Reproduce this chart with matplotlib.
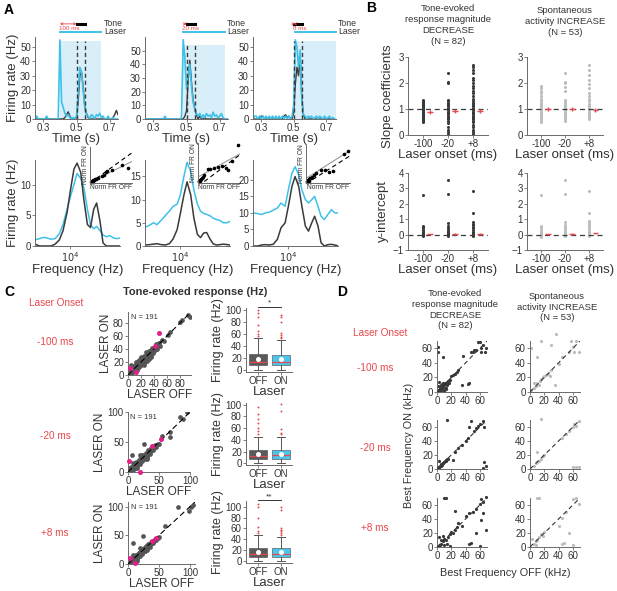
import numpy as np
import matplotlib
matplotlib.use('Agg')
import matplotlib.pyplot as plt

plt.rcParams['font.family'] = ['Liberation Sans', 'DejaVu Sans']
plt.rcParams['axes.linewidth'] = 0.7
plt.rcParams['axes.edgecolor'] = '#6a6a6a'
plt.rcParams['xtick.color'] = '#6a6a6a'
plt.rcParams['ytick.color'] = '#6a6a6a'
plt.rcParams['xtick.labelcolor'] = '#333333'
plt.rcParams['ytick.labelcolor'] = '#333333'
plt.rcParams['axes.labelcolor'] = '#333333'
plt.rcParams['text.color'] = '#333333'

W, H = 617, 591

BLUE = '#3fc0e8'
SHADE = '#d8eff9'
DARK = '#3a3a3a'
RED = '#e8474c'
MAGENTA = '#e0218a'
LIGHT = '#bdbdbd'
LABEL = 9.5

# ---------------- Panel A data ----------------
psth_time = np.round(np.arange(0.25, 0.755, 0.01), 2)
laser_onsets = [0.40, 0.48, 0.508]
laser_ends = [0.65, 0.73, 0.758]
onset_labels = ['100 ms', '20 ms', '8 ms']
psth_ylims = [57, 60, 57]

psth_on = [
    [0, 2, 0, 0, 0, 0, 0, 2, 0, 0,
     0, 0, 0, 0, 0, 55, 12, 8, 4, 2,
     3, 1, 0, 1, 0, 2, 18, 36, 33, 20,
     8, 3, 2, 0, 3, 2, 0, 3, 2, 4,
     1, 2, 0, 0, 2, 0, 0, 1, 0, 0, 0],
    [0, 0, 0, 0, 0, 0, 0, 0, 0, 0,
     0, 0, 2, 0, 0, 0, 0, 0, 0, 0,
     0, 0, 1, 58, 45, 22, 32, 40, 24, 12,
     8, 4, 2, 4, 1, 3, 1, 4, 2, 3,
     1, 5, 2, 3, 1, 2, 4, 1, 0, 0, 0],
    [0, 2, 2, 0, 2, 0, 2, 0, 2, 0,
     2, 0, 2, 0, 2, 0, 2, 0, 2, 0,
     2, 0, 2, 0, 2, 10, 55, 50, 36, 48,
     12, 3, 2, 0, 2, 1, 2, 0, 1, 2,
     0, 2, 1, 0, 2, 0, 1, 2, 0, 1, 0],
]
psth_off = [
    [0, 0, 0, 0, 0, 0, 0, 0, 0, 0,
     0, 0, 0, 0, 0, 0, 0, 0, 1, 3,
     5, 2, 0, 0, 0, 1, 12, 30, 33, 22,
     9, 4, 1, 0, 0, 0, 0, 0, 0, 0,
     0, 0, 0, 0, 0, 0, 0, 1, 3, 6, 3],
    [0, 0, 0, 0, 0, 0, 0, 0, 0, 0,
     0, 0, 0, 0, 0, 0, 0, 0, 0, 0,
     0, 0, 0, 0, 2, 6, 28, 43, 27, 14,
     7, 3, 0, 2, 0, 0, 1, 0, 0, 0,
     0, 0, 0, 0, 0, 0, 0, 0, 0, 0, 0],
    [0, 0, 0, 0, 0, 2, 2, 0, 0, 0,
     0, 0, 0, 0, 0, 0, 0, 0, 0, 2,
     3, 1, 2, 0, 0, 4, 24, 36, 30, 44,
     14, 3, 0, 0, 0, 0, 0, 0, 0, 0,
     0, 0, 0, 0, 0, 0, 0, 0, 0, 0, 0],
]

freq_khz = [2.5, 3, 3.5, 4, 4.7, 5.5, 6.5, 7.5, 8.8, 10, 11.5, 13, 15,
            17, 19.5, 22, 25, 28, 32, 36, 41, 47, 54, 62, 70]
tuning_on = [
    [1.0, 1.2, 1.4, 1.3, 1.1, 1.2, 2.0, 3.5, 6.0, 8.0, 10.0, 11.8, 11.0,
     9.5, 6.0, 3.5, 2.8, 3.2, 2.5, 1.8, 1.5, 1.7, 1.3, 1.2, 1.3],
    [4.0, 4.5, 5.0, 4.6, 5.5, 6.5, 7.5, 8.5, 9.0, 11.0, 15.0, 18.0, 16.0,
     12.0, 9.0, 7.5, 7.0, 6.8, 6.5, 6.0, 5.7, 5.5, 5.0, 5.0, 5.3],
    [10.0, 9.8, 9.5, 10.0, 10.2, 10.8, 11.5, 13.0, 12.0, 17.0, 22.0, 24.0, 21.5,
     17.0, 14.0, 13.0, 14.0, 15.0, 12.0, 9.0, 8.0, 9.5, 11.0, 10.0, 10.0],
]
tuning_off = [
    [0.3, 0.0, 0.0, 0.0, 0.0, 0.3, 1.0, 2.5, 5.5, 9.0, 12.5, 13.5, 12.0,
     7.5, 3.5, 3.0, 6.0, 7.0, 4.0, 0.5, 0.0, 0.0, 0.0, 0.0, 0.0],
    [0.2, 0.3, 0.4, 0.5, 0.3, 0.2, 0.5, 1.5, 3.5, 7.0, 11.0, 13.8, 11.0,
     6.0, 2.5, 1.8, 2.8, 2.9, 1.5, 0.5, 0.2, 0.3, 0.4, 0.3, 0.2],
    [0.0, 0.0, 0.3, 0.4, 0.3, 0.5, 2.0, 5.5, 7.0, 12.0, 18.0, 21.0, 18.0,
     12.0, 6.0, 4.5, 7.0, 9.0, 6.0, 1.0, 0.0, 0.4, 0.5, 0.3, 0.0],
]
tuning_ylims = [14, 18.5, 26]
tuning_yticks = [[0, 5, 10], [0, 5, 10, 15], [0, 5, 10, 15, 20]]

inset_off = [
    [0.02, 0.04, 0.05, 0.07, 0.08, 0.1, 0.12, 0.15, 0.2, 0.3, 0.35, 0.4, 0.42, 0.55, 0.8, 0.95],
    [0.02, 0.03, 0.05, 0.06, 0.08, 0.1, 0.12, 0.15, 0.25, 0.3, 0.4, 0.5, 0.6, 0.7, 0.75, 0.85, 1.0],
    [0.02, 0.03, 0.05, 0.06, 0.08, 0.1, 0.12, 0.15, 0.2, 0.25, 0.35, 0.45, 0.55, 0.65, 0.9, 1.0],
]
inset_on = [
    [0.02, 0.03, 0.06, 0.05, 0.08, 0.09, 0.1, 0.12, 0.15, 0.2, 0.22, 0.3, 0.32, 0.36, 0.5, 0.42],
    [0.05, 0.04, 0.08, 0.06, 0.1, 0.12, 0.14, 0.2, 0.35, 0.36, 0.38, 0.4, 0.42, 0.38, 0.32, 0.55, 0.95],
    [0.03, 0.04, 0.07, 0.06, 0.1, 0.12, 0.14, 0.16, 0.2, 0.25, 0.35, 0.35, 0.3, 0.32, 0.75, 0.85],
]
inset_fit = [(0.55, 0.02), (0.55, 0.15), (0.7, 0.12)]
inset_ref = [(0.8, 0.0), (0.75, -0.08), (0.7, -0.02)]

# ---------------- Panel B data ----------------
onset_names = ['-100', '-20', '+8']
slope_dec = [
    [0.5, 0.53, 0.56, 0.6, 0.63, 0.66, 0.7, 0.72, 0.75, 0.78, 0.8, 0.82, 0.85, 0.87, 0.9,
     0.92, 0.95, 0.97, 1.0, 1.02, 1.05, 1.08, 1.1, 1.13, 1.16, 1.2, 1.24, 1.28, 1.32, 1.35],
    [0.0, 0.05, 0.12, 0.2, 0.3, 0.45, 0.55, 0.6, 0.65, 0.7, 0.75, 0.8, 0.85, 0.9, 0.95,
     1.0, 1.05, 1.1, 1.15, 1.2, 1.25, 1.3, 1.35, 2.0, 2.05, 2.4],
    [0.05, 0.1, 0.2, 0.3, 0.4, 0.5, 0.55, 0.6, 0.65, 0.7, 0.75, 0.8, 0.85, 0.9, 0.95, 1.0,
     1.05, 1.1, 1.15, 1.2, 1.25, 1.3, 1.4, 1.5, 1.6, 1.7, 1.8, 1.9, 2.0, 2.1, 2.2, 2.4,
     2.5, 2.6, 2.7],
]
slope_inc = [
    [0.5, 0.55, 0.6, 0.65, 0.7, 0.75, 0.8, 0.85, 0.9, 0.95, 1.0, 1.05, 1.1, 1.15, 1.2,
     1.25, 1.3, 1.35, 1.4, 1.5, 1.6, 1.7, 1.8, 1.9],
    [0.55, 0.6, 0.65, 0.7, 0.75, 0.8, 0.85, 0.9, 0.95, 1.0, 1.05, 1.1, 1.15, 1.2, 1.25,
     1.3, 1.35, 1.7, 1.85, 2.0, 2.05, 2.4],
    [0.6, 0.65, 0.7, 0.75, 0.8, 0.85, 0.9, 0.95, 1.0, 1.05, 1.1, 1.15, 1.2, 1.3, 1.4,
     1.5, 1.6, 1.8, 1.95, 2.1, 2.3, 2.5, 2.7],
]
slope_dec_mean = [0.87, 0.93, 0.92]
slope_inc_mean = [1.0, 1.0, 0.95]
slope_err = [0.08, 0.08, 0.08]
icpt_dec = [
    [-0.1, -0.05, 0.0, 0.02, 0.05, 0.1, 0.15, 0.2, 0.3, 0.4, 0.5, 0.55, 2.6],
    [-0.1, -0.05, 0.0, 0.05, 0.1, 0.15, 0.2, 0.3, 0.4, 0.55, 0.75, 2.65, 3.55],
    [-0.1, 0.0, 0.05, 0.1, 0.2, 0.3, 0.4, 0.5, 0.6, 0.7, 0.8, 1.4, 2.8],
]
icpt_inc = [
    [-0.15, -0.05, 0.0, 0.05, 0.1, 0.2, 0.3, 0.4, 0.5, 0.55, 2.6],
    [-0.1, 0.0, 0.05, 0.1, 0.2, 0.3, 0.4, 0.5, 0.6, 0.8, 2.65, 3.55],
    [-0.1, 0.0, 0.1, 0.2, 0.3, 0.4, 0.5, 0.6, 0.7, 0.8, 0.9, 1.4, 2.8],
]
icpt_dec_mean = [0.02, 0.05, 0.05]
icpt_inc_mean = [0.02, 0.04, 0.08]
icpt_err = [0.05, 0.05, 0.05]

# ---------------- Panel C data ----------------
c_off = [
    [2, 4, 5, 6, 8, 9, 10, 11, 12, 13, 14, 15, 16, 17, 18, 19, 20, 21, 22, 23, 24, 25, 26,
     27, 28, 29, 30, 31, 32, 33, 34, 35, 36, 38, 40, 42, 44, 46, 48, 52, 55, 62, 64, 80,
     83, 93, 96, 5, 20, 30, 12, 25, 35, 15,
     3, 5, 7, 9, 11, 13, 15, 17, 19, 21, 23, 25, 27, 29, 31, 33, 35, 37, 39, 41, 43, 45,
     47, 50, 8, 14, 18, 24, 28, 32],
    [2, 4, 5, 6, 8, 9, 10, 11, 12, 13, 14, 15, 16, 17, 18, 19, 20, 22, 24, 25, 26, 28, 30,
     32, 34, 35, 38, 40, 42, 45, 48, 50, 6, 26, 55, 68, 68, 84, 95, 88, 10, 30, 20,
     3, 5, 7, 9, 11, 13, 15, 17, 19, 21, 23, 25, 27, 29, 31, 33, 35, 37, 40, 43, 8, 14,
     22, 30],
    [2, 4, 5, 6, 8, 9, 10, 11, 12, 13, 14, 15, 16, 17, 18, 19, 20, 22, 24, 25, 26, 28, 30,
     32, 34, 35, 38, 40, 42, 45, 48, 50, 8, 24, 60, 80, 102, 105, 98, 15, 28, 20,
     3, 5, 7, 9, 11, 13, 15, 17, 19, 21, 23, 25, 27, 29, 31, 33, 35, 37, 40, 43, 8, 14,
     22, 30],
]
c_on = [
    [2, 3, 6, 4, 9, 7, 12, 10, 14, 11, 16, 13, 18, 15, 20, 17, 22, 19, 24, 21, 26, 22, 28,
     25, 30, 27, 32, 28, 34, 30, 36, 32, 38, 35, 42, 40, 46, 44, 50, 54, 52, 62, 66, 82,
     85, 92, 90, 15, 28, 22, 20, 18, 28, 22,
     7, 9, 4, 13, 8, 17, 11, 21, 14, 25, 18, 29, 22, 33, 26, 37, 29, 42, 34, 38, 48, 40,
     50, 45, 14, 8, 24, 16, 35, 25],
    [3, 2, 6, 4, 9, 7, 12, 10, 13, 11, 15, 13, 17, 15, 19, 17, 21, 20, 22, 24, 25, 26, 29,
     30, 33, 33, 36, 38, 40, 42, 46, 47, 28, 47, 60, 67, 58, 91, 100, 88, 5, 22, 28,
     6, 8, 3, 12, 7, 16, 10, 20, 13, 24, 18, 28, 21, 32, 25, 36, 30, 40, 36, 45, 15, 7,
     28, 24],
    [2, 3, 6, 4, 9, 7, 12, 10, 13, 11, 15, 13, 17, 15, 19, 17, 21, 20, 22, 24, 25, 26, 29,
     30, 33, 33, 36, 38, 40, 42, 46, 47, 37, 48, 67, 100, 100, 102, 92, 5, 22, 28,
     6, 9, 3, 12, 8, 16, 11, 20, 14, 25, 18, 28, 22, 31, 26, 35, 30, 39, 37, 44, 16, 9,
     27, 25],
]
c_mag_off = [[3, 12, 42, 48], [2, 19, 39, 53], [3, 12, 38, 45]]
c_mag_on = [[11, 5, 45, 65], [18, 0, 43, 55], [10, 2, 40, 45]]
c_lims = [97, 100, 108]
c_ticks = [[0, 20, 40, 60, 80], [0, 50, 100], [0, 50, 100]]

# box stats: q1, median, q3, whisker low, whisker high, mean
box_off = [[8, 14, 26, 0, 53, 19], [8, 13, 22, 1, 45, 16], [7, 13, 24, 0, 48, 17]]
box_on = [[9, 14, 25, 0, 50, 18], [8, 14, 22, 1, 45, 16], [7, 12, 23, 0, 44, 16]]
fliers_off = [[56, 60, 65, 75, 88, 95, 100],
              [50, 55, 60, 68, 75, 85, 97],
              [52, 55, 62, 80, 100, 105]]
fliers_on = [[53, 55, 58, 62, 80, 88, 92],
             [50, 52, 58, 90, 102],
             [48, 52, 55, 58, 60, 95, 100]]
box_sig = ['*', '', '**']
box_ylims = [(-3, 103), (-3, 103), (-4, 111)]

# ---------------- Panel D data ----------------
d_dec_off = [
    [1, 2, 3, 4, 5, 6, 7, 8, 9, 10, 11, 12, 13, 14, 15, 5, 8, 12, 3, 16, 18, 10, 2,
     1, 2, 8, 20, 22, 25, 28, 30, 35, 37, 43, 45, 48, 50, 52, 55, 58, 60, 62, 65, 67, 68, 62,
     4, 6, 9, 11, 14, 17, 7, 13],
    [1, 2, 3, 4, 5, 6, 7, 8, 9, 10, 11, 12, 13, 14, 15, 3, 22, 14, 40, 43, 45, 48, 52,
     55, 58, 60, 65, 66, 65, 68, 66, 30, 35, 25],
    [10, 12, 25, 40, 45, 50, 55, 60, 62, 65, 68, 65, 62, 68, 55, 45, 48, 60, 30, 35, 3, 8,
     5, 8, 10, 12, 15, 18, 20, 22, 25, 28, 2, 4, 10, 14, 18, 5],
]
d_dec_on = [
    [1, 3, 2, 5, 4, 7, 6, 9, 8, 10, 12, 11, 13, 14, 15, 10, 3, 6, 14, 12, 16, 2, 8,
     62, 55, 48, 22, 24, 25, 28, 30, 10, 50, 11, 12, 55, 55, 57, 58, 68, 68, 60, 65, 55, 60, 55,
     8, 3, 12, 6, 9, 13, 11, 4],
    [1, 3, 2, 5, 4, 7, 6, 9, 8, 10, 12, 11, 13, 14, 15, 12, 13, 70, 40, 45, 60, 68, 55,
     58, 62, 65, 68, 60, 2, 5, 10, 30, 35, 25],
    [70, 70, 52, 45, 48, 50, 55, 62, 68, 65, 72, 48, 38, 25, 20, 5, 6, 2, 35, 30, 15, 16,
     5, 8, 12, 10, 15, 18, 22, 20, 25, 28, 2, 3, 3, 5, 2, 10],
]
d_inc_off = [
    [2, 5, 8, 10, 12, 14, 16, 18, 20, 22, 25, 28, 30, 5, 10, 15, 30, 36, 35, 40, 45, 55,
     60, 58, 65, 62, 68, 2],
    [15, 5, 8, 10, 12, 15, 10, 18, 20, 45, 50, 55, 60, 62, 65, 68, 60, 65, 68],
    [10, 12, 60, 65, 68, 45, 50, 40, 55, 45, 48, 60, 5, 8, 10, 12, 15, 18, 20, 3, 8],
]
d_inc_on = [
    [3, 5, 8, 12, 10, 15, 18, 20, 22, 24, 25, 22, 30, 12, 48, 70, 65, 80, 10, 38, 48, 55,
     62, 70, 70, 55, 55, 60],
    [72, 5, 8, 10, 12, 15, 25, 18, 20, 45, 50, 55, 60, 65, 62, 68, 3, 3, 3],
    [70, 70, 68, 70, 62, 42, 50, 30, 20, 5, 6, 3, 5, 8, 10, 14, 18, 16, 22, 12, 3],
]


def px_axes(fig, left, top, right, bottom):
    return fig.add_axes([left / W, 1 - bottom / H, (right - left) / W, (bottom - top) / H])


def ftext(fig, x, y, s, **kw):
    return fig.text(x / W, 1 - y / H, s, **kw)


def style(ax, size=7):
    ax.spines['top'].set_visible(False)
    ax.spines['right'].set_visible(False)
    ax.tick_params(length=2, width=0.6, labelsize=size, pad=1)


fig = plt.figure(figsize=(W / 100, H / 100), dpi=100)

# ================= Panel A =================
a_lefts = [35, 145, 253]
for i in range(3):
    ax = px_axes(fig, a_lefts[i], 37, a_lefts[i] + 83, 119)
    style(ax)
    x_right = 0.76 if i == 2 else 0.75
    ax.axvspan(laser_onsets[i], laser_ends[i], ymax=54 / psth_ylims[i], color=SHADE, lw=0)
    ax.plot(psth_time, psth_off[i], color=DARK, lw=1.0)
    ax.plot(psth_time, psth_on[i], color=BLUE, lw=1.2)
    ax.plot([0.5, 0.5], [0, 54], color=DARK, lw=1.0, ls=(0, (3, 2)))
    ax.plot([0.55, 0.55], [0, 54], color=DARK, lw=1.0, ls=(0, (3, 2)))
    ax.set_xlim(0.25, x_right)
    ax.set_ylim(0, psth_ylims[i])
    ax.set_xticks([0.3, 0.5, 0.7])
    ax.set_xticklabels(['0.3', '0.5', '0.7'])
    ax.set_yticks([0, 10, 20, 30, 40, 50])
    ax.set_xlabel('Time (s)', fontsize=LABEL, labelpad=0)
    if i == 0:
        ax.set_ylabel('Firing rate (Hz)', fontsize=LABEL, labelpad=1)
    tr = ax.get_xaxis_transform()
    ax.plot([0.5, 0.55], [1.16, 1.16], color='black', lw=2.2, transform=tr, clip_on=False)
    ax.plot([laser_onsets[i], laser_ends[i]], [1.06, 1.06], color=BLUE, lw=1.4,
            transform=tr, clip_on=False)
    ax.annotate('', xy=(min(laser_onsets[i], 0.5), 1.16), xytext=(max(laser_onsets[i], 0.5), 1.16),
                xycoords=tr, textcoords=tr,
                arrowprops=dict(arrowstyle='<->', color=RED, lw=0.6, shrinkA=0, shrinkB=0,
                                mutation_scale=4))
    ax.text(min(laser_onsets[i], 0.5) - 0.005, 1.105, onset_labels[i], color=RED, fontsize=4.5,
            transform=tr, va='center', ha='left')
    ax.text(laser_ends[i] + 0.015, 1.17, 'Tone', fontsize=6.3, transform=tr, va='center')
    ax.text(laser_ends[i] + 0.015, 1.07, 'Laser', fontsize=6.3, transform=tr, va='center')

inset_rects = [(90, 147, 132, 183), (198, 143, 240, 183), (306, 145, 350, 183)]
for i in range(3):
    ax = px_axes(fig, a_lefts[i], 160, a_lefts[i] + 85, 246)
    style(ax)
    f_hz = np.array(freq_khz) * 1000
    ax.plot(f_hz, tuning_on[i], color=BLUE, lw=1.1)
    ax.plot(f_hz, tuning_off[i], color=DARK, lw=1.1)
    ax.set_xscale('log')
    ax.set_xlim(2500, 70000)
    ax.set_ylim(0, tuning_ylims[i])
    ax.set_xticks([1e4])
    ax.set_xticklabels(['$10^4$'])
    ax.minorticks_off()
    ax.set_yticks(tuning_yticks[i])
    ax.set_xlabel('Frequency (Hz)', fontsize=LABEL, labelpad=0)
    if i == 0:
        ax.set_ylabel('Firing rate (Hz)', fontsize=LABEL, labelpad=1)

    ins = px_axes(fig, *inset_rects[i])
    ins.spines['top'].set_visible(False)
    ins.spines['right'].set_visible(False)
    ins.set_xticks([])
    ins.set_yticks([])
    ins.patch.set_alpha(0)
    xs = np.array([0, 1.05])
    ins.plot(xs, inset_fit[i][0] * xs + inset_fit[i][1], color='#9a9a9a', lw=0.8)
    ins.plot(xs, inset_ref[i][0] * xs + inset_ref[i][1], color='black', lw=0.8, ls=(0, (4, 3)))
    ins.plot(inset_off[i], inset_on[i], 'o', color='black', ms=1.6, clip_on=False)
    ins.set_xlim(0, 1.05)
    ins.set_ylim(0, 1.0)
    ins.set_xlabel('Norm FR OFF', fontsize=4.8, labelpad=1)
    ins.set_ylabel('Norm FR ON', fontsize=4.8, labelpad=1)

ftext(fig, 4, 10, 'A', fontsize=10, fontweight='bold', color='black', va='center')

# ================= Panel B =================
pos = np.array([1, 2, 3])
b_cols = [(408, 488, DARK, slope_dec, slope_dec_mean, icpt_dec, icpt_dec_mean),
          (527, 603, LIGHT, slope_inc, slope_inc_mean, icpt_inc, icpt_inc_mean)]
for j, (l, r, col, sl, slm, ic, icm) in enumerate(b_cols):
    ax = px_axes(fig, l, 57, r, 135)
    style(ax)
    for k in range(3):
        ax.plot([pos[k]] * len(sl[k]), sl[k], 'o', color=col, ms=2.2, mec='none')
    ax.axhline(1, color=DARK, lw=0.9, ls=(0, (4, 3)))
    ax.errorbar(pos + 0.28, slm, yerr=slope_err, xerr=0.12, fmt='none', ecolor=RED, elinewidth=1.0)
    ax.set_xlim(0.4, 3.6)
    ax.set_ylim(0, 3)
    ax.set_yticks([0, 1, 2, 3])
    ax.set_xticks(pos)
    ax.set_xticklabels(onset_names)
    ax.set_xlabel('Laser onset (ms)', fontsize=LABEL, labelpad=0)
    if j == 0:
        ax.set_ylabel('Slope coefficients', fontsize=LABEL, labelpad=3)

    ax = px_axes(fig, l, 173, r, 250)
    style(ax)
    for k in range(3):
        ax.plot([pos[k]] * len(ic[k]), ic[k], 'o', color=col, ms=2.2, mec='none')
    ax.axhline(0, color=DARK, lw=0.9, ls=(0, (4, 3)))
    ax.errorbar(pos + 0.28, icm, yerr=icpt_err, xerr=0.12, fmt='none', ecolor=RED, elinewidth=1.0)
    ax.set_xlim(0.4, 3.6)
    ax.set_ylim(-1, 4)
    ax.set_yticks([-1, 0, 1, 2, 3, 4])
    ax.set_xticks(pos)
    ax.set_xticklabels(onset_names)
    ax.set_xlabel('Laser onset (ms)', fontsize=LABEL, labelpad=0)
    if j == 0:
        ax.set_ylabel('y-intercept', fontsize=LABEL, labelpad=3)

ftext(fig, 366, 8, 'B', fontsize=10, fontweight='bold', color='black', va='center')
ftext(fig, 448, 4, 'Tone-evoked\nresponse magnitude\nDECREASE\n(N = 82)', fontsize=6.8,
      ha='center', va='top', linespacing=1.3)
ftext(fig, 565, 6, 'Spontaneous\nactivity INCREASE\n(N = 53)', fontsize=6.8,
      ha='center', va='top', linespacing=1.3)

# ================= Panel C =================
c_rows = [(312, 375, 191), (412, 472, 190), (502, 564, 195)]
box_rects = [(246, 308, 292, 372), (246, 403, 292, 465), (246, 501, 292, 563)]
for i in range(3):
    top, bot, right = c_rows[i]
    ax = px_axes(fig, 128, top, right, bot)
    style(ax)
    lim = c_lims[i]
    ax.plot([0, lim], [0, lim], color='black', lw=0.8, ls=(0, (5, 3)), zorder=3)
    ax.plot(c_off[i], c_on[i], 'o', color='#555555', ms=3.4, mec='none', zorder=2)
    ax.plot(c_mag_off[i], c_mag_on[i], 'o', color=MAGENTA, ms=3.6, mec='none', zorder=4,
            clip_on=False)
    ax.set_xlim(0, lim)
    ax.set_ylim(0, lim)
    ax.set_xticks(c_ticks[i])
    ax.set_yticks(c_ticks[i])
    ax.tick_params(labelsize=7)
    ax.set_xlabel('LASER OFF', fontsize=8.5, labelpad=0)
    ax.set_ylabel('LASER ON', fontsize=8.5, labelpad=1)
    ax.text(0.04, 0.97, 'N = 191', transform=ax.transAxes, fontsize=5.4, va='top')

    bx = px_axes(fig, *box_rects[i])
    style(bx)
    stats = []
    for b, fl in ((box_off[i], fliers_off[i]), (box_on[i], fliers_on[i])):
        stats.append(dict(q1=b[0], med=b[1], q3=b[2], whislo=b[3], whishi=b[4], mean=b[5],
                          fliers=fl))
    parts = bx.bxp(stats, positions=[1, 2], widths=0.75, patch_artist=True, showmeans=True,
                   boxprops=dict(lw=0.4, edgecolor='#444444'),
                   medianprops=dict(color=RED, lw=0.9),
                   whiskerprops=dict(color='#555555', lw=0.7),
                   capprops=dict(color='#555555', lw=0.7),
                   flierprops=dict(marker='o', ms=1.4, mfc=RED, mec='none'),
                   meanprops=dict(marker='o', ms=2.6, mfc='white', mec='white'))
    parts['boxes'][0].set_facecolor('#5a5a5a')
    parts['boxes'][1].set_facecolor('#4cc4ec')
    bx.set_xlim(0.48, 2.48)
    bx.set_ylim(*box_ylims[i])
    bx.set_yticks([0, 20, 40, 60, 80, 100])
    bx.set_xticks([1, 2])
    bx.set_xticklabels(['OFF', 'ON'])
    bx.tick_params(labelsize=7)
    bx.set_xlabel('Laser', fontsize=LABEL, labelpad=0)
    bx.set_ylabel('Firing rate (Hz)', fontsize=9, labelpad=1)
    if box_sig[i]:
        yl = box_ylims[i][1]
        bx.plot([1, 2], [yl + 2, yl + 2], color='#333333', lw=0.7, clip_on=False)
        bx.text(1.5, yl + 2, box_sig[i], ha='center', va='bottom', fontsize=6)

ftext(fig, 4, 292, 'C', fontsize=10, fontweight='bold', color='black', va='center')
ftext(fig, 195, 292, 'Tone-evoked response (Hz)', fontsize=8, fontweight='bold',
      ha='center', va='center')
ftext(fig, 56, 303, 'Laser Onset', fontsize=7.2, color=RED, ha='center', va='center')
for lab, y in zip(['-100 ms', '-20 ms', '+8 ms'], [342, 436, 533]):
    ftext(fig, 55, y, lab, fontsize=7.2, color=RED, ha='center', va='center')

# ================= Panel D =================
d_rows = [(341, 392), (420, 469), (498, 547)]
d_cols = [(437, 487, DARK, d_dec_off, d_dec_on), (530, 580, LIGHT, d_inc_off, d_inc_on)]
for i in range(3):
    top, bot = d_rows[i]
    for l, r, col, xo, yo in d_cols:
        ax = px_axes(fig, l, top, r, bot)
        style(ax)
        ax.plot([0, 70], [0, 70], color='#333333', lw=0.8, ls=(0, (4, 3)), zorder=3)
        ax.plot(xo[i], yo[i], 'o', color=col, ms=2.3, mec='none', clip_on=False, zorder=2)
        ax.set_xlim(0, 70)
        ax.set_ylim(0, 70)
        ax.set_xticks([0, 20, 40, 60])
        ax.set_yticks([0, 20, 40, 60])
        ax.tick_params(labelsize=7)

ftext(fig, 337, 292, 'D', fontsize=10, fontweight='bold', color='black', va='center')
ftext(fig, 455, 289, 'Tone-evoked\nresponse magnitude\nDECREASE\n(N = 82)', fontsize=6.8,
      ha='center', va='top', linespacing=1.25)
ftext(fig, 557, 292, 'Spontaneous\nactivity INCREASE\n(N = 53)', fontsize=6.8,
      ha='center', va='top', linespacing=1.25)
ftext(fig, 380, 333, 'Laser Onset', fontsize=7.2, color=RED, ha='center', va='center')
for lab, y in zip(['-100 ms', '-20 ms', '+8 ms'], [368, 448, 528]):
    ftext(fig, 375, y, lab, fontsize=7.2, color=RED, ha='center', va='center')
ftext(fig, 409, 445, 'Best Frequency ON (kHz)', fontsize=7.8, rotation=90,
      ha='center', va='center')
ftext(fig, 505, 573, 'Best Frequency OFF (kHz)', fontsize=7.8, ha='center', va='center')

fig.savefig('out.png', dpi=100)
